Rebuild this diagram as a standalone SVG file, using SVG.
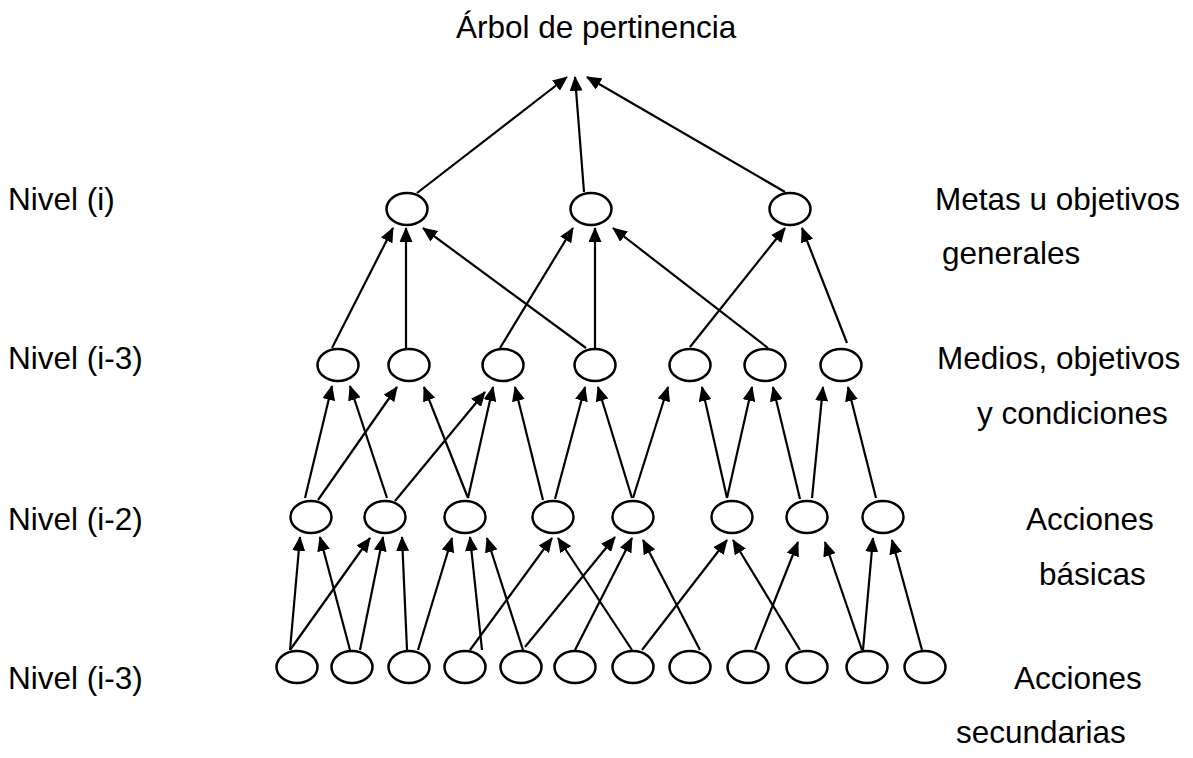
<svg xmlns="http://www.w3.org/2000/svg" width="1193" height="758" viewBox="0 0 1193 758">
<defs>
<marker id="ah" markerUnits="userSpaceOnUse" markerWidth="15" markerHeight="13" refX="14" refY="6.5" orient="auto" viewBox="0 0 15 13">
<path d="M0,0 L15,6.5 L0,13 z" fill="#000"/>
</marker>
</defs>
<style>
.n{fill:#fff;stroke:#000;stroke-width:2.5}
.e line{stroke:#000;stroke-width:2.2;marker-end:url(#ah)}
text{font-family:"Liberation Sans",Arial,sans-serif;font-size:31.5px;fill:#000}
</style>
<rect width="1193" height="758" fill="#fff"/>
<g id="labels">
<text x="456" y="38">Árbol de pertinencia</text>
<text x="8" y="210">Nivel (i)</text>
<text x="8" y="369">Nivel (i-3)</text>
<text x="8" y="530">Nivel (i-2)</text>
<text x="8" y="689">Nivel (i-3)</text>
<text x="935" y="210">Metas u objetivos</text>
<text x="942" y="264">generales</text>
<text x="937" y="369">Medios, objetivos</text>
<text x="977" y="424">y condiciones</text>
<text x="1026" y="530">Acciones</text>
<text x="1039" y="585">básicas</text>
<text x="1014" y="689">Acciones</text>
<text x="956" y="743">secundarias</text>
</g>
<g id="connectors" class="e">
<line x1="417" y1="193" x2="567" y2="77"/>
<line x1="584" y1="192" x2="575" y2="77"/>
<line x1="785" y1="192" x2="587" y2="77"/>
<line x1="332" y1="348" x2="393" y2="228"/>
<line x1="406" y1="348" x2="406" y2="228"/>
<line x1="586" y1="348" x2="423" y2="228"/>
<line x1="500" y1="348" x2="573" y2="228"/>
<line x1="595" y1="348" x2="595" y2="228"/>
<line x1="768" y1="348" x2="613" y2="228"/>
<line x1="690" y1="347" x2="785" y2="228"/>
<line x1="847" y1="343" x2="802" y2="228"/>
<line x1="305" y1="498" x2="332" y2="386"/>
<line x1="318" y1="500" x2="397" y2="387"/>
<line x1="387" y1="498" x2="350" y2="386"/>
<line x1="395" y1="501" x2="485" y2="392"/>
<line x1="468" y1="498" x2="424" y2="387"/>
<line x1="468" y1="498" x2="493" y2="387"/>
<line x1="543" y1="500" x2="515" y2="387"/>
<line x1="555" y1="499" x2="585" y2="387"/>
<line x1="632" y1="498" x2="598" y2="387"/>
<line x1="633" y1="498" x2="668" y2="387"/>
<line x1="727" y1="498" x2="702" y2="387"/>
<line x1="727" y1="498" x2="752" y2="387"/>
<line x1="800" y1="499" x2="773" y2="387"/>
<line x1="812" y1="498" x2="823" y2="387"/>
<line x1="876" y1="498" x2="848" y2="387"/>
<line x1="290" y1="650" x2="300" y2="537"/>
<line x1="350" y1="650" x2="320" y2="537"/>
<line x1="290" y1="650" x2="370" y2="538"/>
<line x1="360" y1="650" x2="383" y2="537"/>
<line x1="407" y1="650" x2="402" y2="537"/>
<line x1="418" y1="650" x2="452" y2="538"/>
<line x1="482" y1="650" x2="470" y2="537"/>
<line x1="523" y1="650" x2="487" y2="538"/>
<line x1="470" y1="650" x2="552" y2="538"/>
<line x1="632" y1="650" x2="558" y2="538"/>
<line x1="525" y1="647" x2="615" y2="537"/>
<line x1="575" y1="650" x2="632" y2="538"/>
<line x1="700" y1="650" x2="643" y2="540"/>
<line x1="642" y1="650" x2="727" y2="540"/>
<line x1="800" y1="650" x2="733" y2="540"/>
<line x1="755" y1="650" x2="798" y2="542"/>
<line x1="862" y1="650" x2="825" y2="542"/>
<line x1="863" y1="650" x2="873" y2="538"/>
<line x1="922" y1="650" x2="892" y2="540"/>
</g>
<g id="level1">
<g id="n1-1"><ellipse class="n" cx="407" cy="209" rx="20.5" ry="16"/></g>
<g id="n1-2"><ellipse class="n" cx="591" cy="209" rx="20.5" ry="16"/></g>
<g id="n1-3"><ellipse class="n" cx="790" cy="209" rx="20.5" ry="16"/></g>
</g>
<g id="level2">
<g id="n2-1"><ellipse class="n" cx="338" cy="365" rx="20.5" ry="16"/></g>
<g id="n2-2"><ellipse class="n" cx="409" cy="365" rx="20.5" ry="16"/></g>
<g id="n2-3"><ellipse class="n" cx="503" cy="365" rx="20.5" ry="16"/></g>
<g id="n2-4"><ellipse class="n" cx="595" cy="365" rx="20.5" ry="16"/></g>
<g id="n2-5"><ellipse class="n" cx="690" cy="365" rx="20.5" ry="16"/></g>
<g id="n2-6"><ellipse class="n" cx="765" cy="365" rx="20.5" ry="16"/></g>
<g id="n2-7"><ellipse class="n" cx="841" cy="365" rx="20.5" ry="16"/></g>
</g>
<g id="level3">
<g id="n3-1"><ellipse class="n" cx="311" cy="517" rx="20.5" ry="16"/></g>
<g id="n3-2"><ellipse class="n" cx="385" cy="517" rx="20.5" ry="16"/></g>
<g id="n3-3"><ellipse class="n" cx="465" cy="517" rx="20.5" ry="16"/></g>
<g id="n3-4"><ellipse class="n" cx="553" cy="517" rx="20.5" ry="16"/></g>
<g id="n3-5"><ellipse class="n" cx="633" cy="517" rx="20.5" ry="16"/></g>
<g id="n3-6"><ellipse class="n" cx="732" cy="517" rx="20.5" ry="16"/></g>
<g id="n3-7"><ellipse class="n" cx="807" cy="517" rx="20.5" ry="16"/></g>
<g id="n3-8"><ellipse class="n" cx="883" cy="517" rx="20.5" ry="16"/></g>
</g>
<g id="level4">
<g id="n4-1"><ellipse class="n" cx="297" cy="667" rx="20.5" ry="16"/></g>
<g id="n4-2"><ellipse class="n" cx="352" cy="667" rx="20.5" ry="16"/></g>
<g id="n4-3"><ellipse class="n" cx="409" cy="667" rx="20.5" ry="16"/></g>
<g id="n4-4"><ellipse class="n" cx="465" cy="667" rx="20.5" ry="16"/></g>
<g id="n4-5"><ellipse class="n" cx="521" cy="667" rx="20.5" ry="16"/></g>
<g id="n4-6"><ellipse class="n" cx="575" cy="667" rx="20.5" ry="16"/></g>
<g id="n4-7"><ellipse class="n" cx="633" cy="667" rx="20.5" ry="16"/></g>
<g id="n4-8"><ellipse class="n" cx="690" cy="667" rx="20.5" ry="16"/></g>
<g id="n4-9"><ellipse class="n" cx="748" cy="667" rx="20.5" ry="16"/></g>
<g id="n4-10"><ellipse class="n" cx="807" cy="667" rx="20.5" ry="16"/></g>
<g id="n4-11"><ellipse class="n" cx="867" cy="667" rx="20.5" ry="16"/></g>
<g id="n4-12"><ellipse class="n" cx="925" cy="667" rx="20.5" ry="16"/></g>
</g>
</svg>
